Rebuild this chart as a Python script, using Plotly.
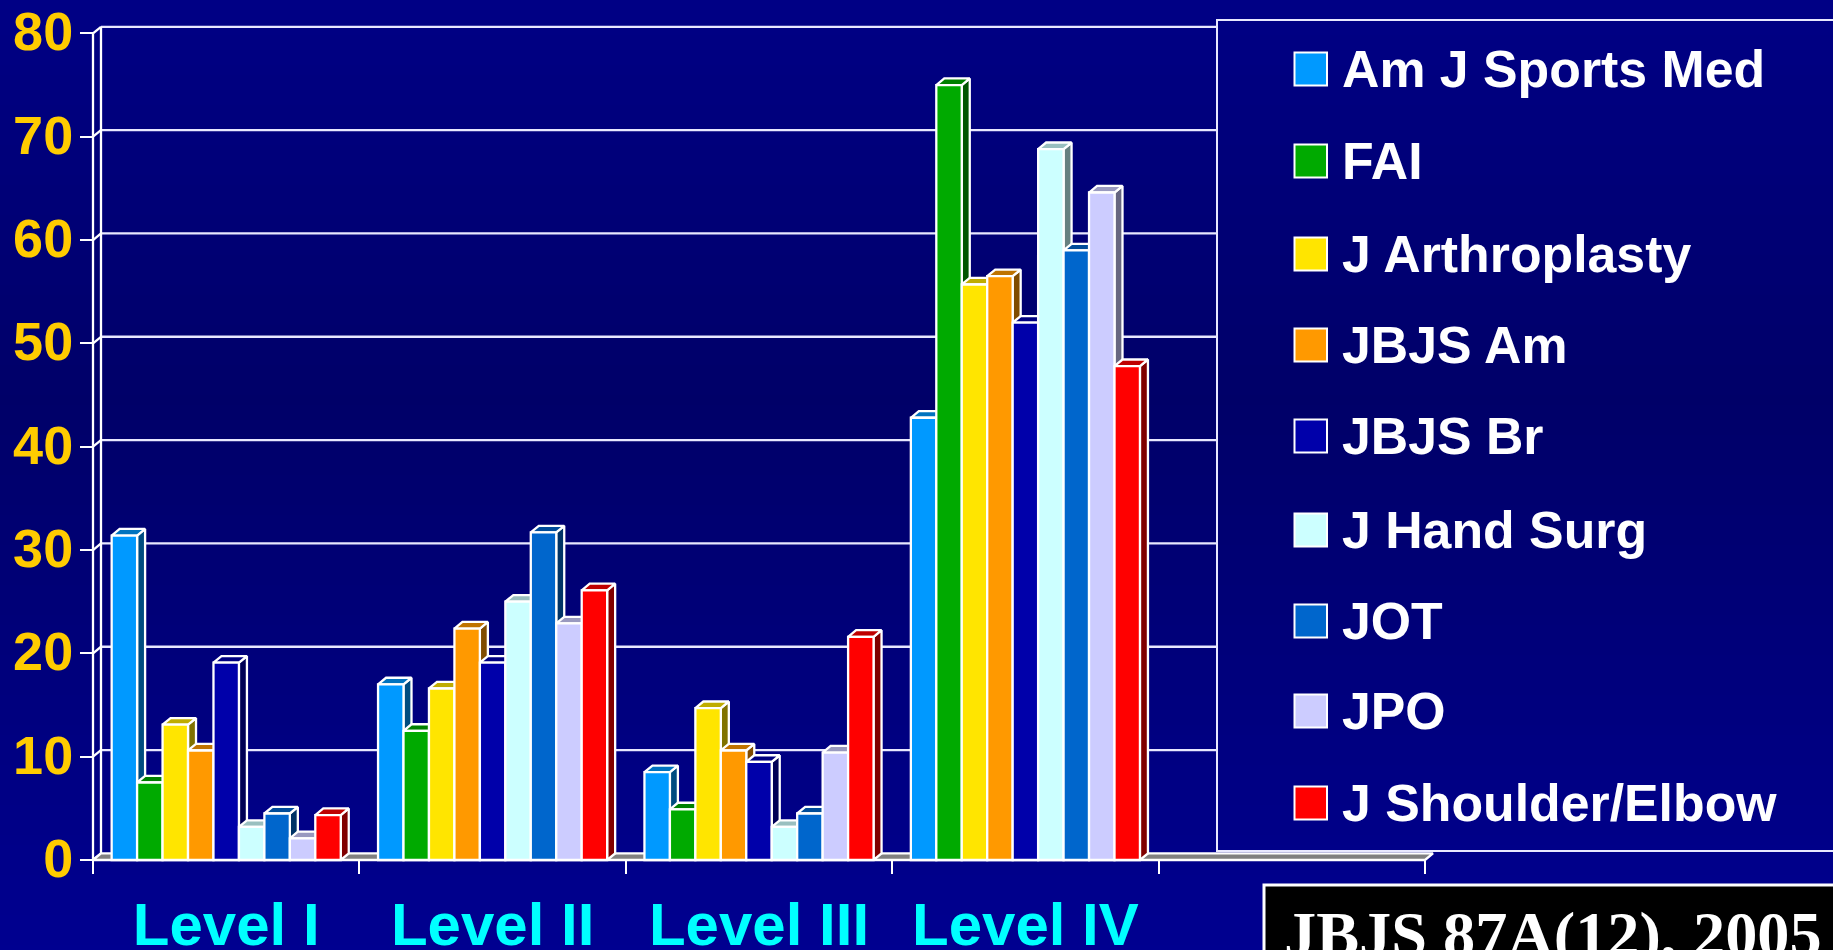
import plotly.graph_objects as go

# Percent of articles per evidence level, by journal
levels = ["Level I", "Level II", "Level III", "Level IV"]
journals = ["Am J Sports Med", "FAI", "J Arthroplasty", "JBJS Am", "JBJS Br",
            "J Hand Surg", "JOT", "JPO", "J Shoulder/Elbow"]
am_j_sports_med = [31.4, 17.0, 8.5, 42.8]
fai = [7.5, 12.5, 4.9, 75.0]
j_arthroplasty = [13.1, 16.6, 14.7, 55.7]
jbjs_am = [10.6, 22.4, 10.6, 56.5]
jbjs_br = [19.1, 19.1, 9.5, 52.0]
j_hand_surg = [3.2, 25.0, 3.2, 68.8]
jot = [4.5, 31.7, 4.5, 59.0]
jpo = [2.1, 22.9, 10.4, 64.6]
j_shoulder_elbow = [4.35, 26.1, 21.6, 47.8]
series = [am_j_sports_med, fai, j_arthroplasty, jbjs_am, jbjs_br,
          j_hand_surg, jot, jpo, j_shoulder_elbow]
colors = [(0, 153, 255), (0, 170, 0), (255, 229, 0), (255, 153, 0), (0, 0, 170),
          (204, 255, 255), (0, 102, 204), (204, 204, 255), (255, 0, 0)]
y_ticks = [0, 10, 20, 30, 40, 50, 60, 70, 80]

WIDTH, HEIGHT = 1833, 950
LEFT, RIGHT, BASE, TOP = 93, 1425, 860, 33.4
N_SLOTS = 5
BAR_GAP = 0.14
X_UNIT = (RIGHT - LEFT) / N_SLOTS
Y_UNIT = (BASE - TOP) / 80
DEPTH_X = 8 / X_UNIT      # extrusion in x-axis units
DEPTH_Y = 6.6 / Y_UNIT    # extrusion in y-axis units
WALL_END = (1217 - LEFT) / X_UNIT  # wall lines stop at the key
# Axis ranges reach a little past the box so its outer edges are not trimmed
X_RANGE = [-5 / X_UNIT, N_SLOTS + 10 / X_UNIT]
Y_RANGE = [-3 / Y_UNIT, 80 + 20 / Y_UNIT]
WHITE = "#FFFFFF"
EDGE = 2.3


def rgb(c, k=1.0):
    return f"rgb({round(c[0] * k)},{round(c[1] * k)},{round(c[2] * k)})"


def px(x):
    return x / WIDTH


def py(y):
    return 1 - y / HEIGHT


fig = go.Figure()


def poly(xs, ys, fill):
    fig.add_trace(go.Scatter(
        x=xs + xs[:1], y=ys + ys[:1], mode="lines", fill="toself", fillcolor=fill,
        line=dict(color=WHITE, width=EDGE), hoverinfo="skip", showlegend=False))


def line(xs, ys, color="#E8E8FF"):
    fig.add_trace(go.Scatter(
        x=xs, y=ys, mode="lines", line=dict(color=color, width=EDGE),
        hoverinfo="skip", showlegend=False))


# Back wall, side wall edges and floor of the 3D box
for v in y_ticks:
    if v:
        line([DEPTH_X, WALL_END], [v + DEPTH_Y, v + DEPTH_Y])
    line([0, DEPTH_X], [v, v + DEPTH_Y], WHITE)
line([DEPTH_X, DEPTH_X], [DEPTH_Y, 80 + DEPTH_Y], WHITE)
line([0, 0], [0, 80], WHITE)
poly([0, N_SLOTS, N_SLOTS + DEPTH_X, DEPTH_X], [0, 0, DEPTH_Y, DEPTH_Y], "rgb(128,128,128)")

# Side and top faces, painted left to right so that each bar overlaps its neighbour
bar_w = (1 - BAR_GAP) / len(series)
for g in range(len(levels)):
    for s, values in enumerate(series):
        v = values[g]
        x0 = g + BAR_GAP / 2 + s * bar_w
        x1 = x0 + bar_w
        poly([x1, x1 + DEPTH_X, x1 + DEPTH_X, x1], [0, DEPTH_Y, v + DEPTH_Y, v], rgb(colors[s], 0.5))
        poly([x0, x1, x1 + DEPTH_X, x0 + DEPTH_X], [v, v, v + DEPTH_Y, v + DEPTH_Y], rgb(colors[s], 0.75))

# Front faces sit on an overlaid pair of axes, which renders above the extruded faces
centers = [g + 0.5 for g in range(len(levels))]
for name, values, c in zip(journals, series, colors):
    fig.add_trace(go.Bar(
        x=centers, y=values, name=name, xaxis="x2", yaxis="y2",
        marker=dict(color=rgb(c), line=dict(color=WHITE, width=EDGE)),
        hovertemplate="%{y}<extra>" + name + "</extra>", showlegend=False))

shapes = []

# Vertical navy gradient behind everything
STEP = 5
for y in range(0, HEIGHT, STEP):
    t = abs((y + STEP / 2) - 400) / 550
    b = round(104 + 40 * min(t * 1.0, 1))
    shapes.append(dict(type="rect", xref="paper", yref="paper", layer="below",
                       x0=0, x1=1, y0=py(y + STEP), y1=py(y), line_width=0,
                       fillcolor=f"rgb(0,0,{b})"))

# Key frame, open on the right where it runs off the page
shapes.append(dict(type="rect", xref="paper", yref="paper", layer="above",
                   x0=px(1217), x1=px(1845), y0=py(851), y1=py(20),
                   line=dict(color="#E8E8FF", width=2)))

annotations = []
key_rows = [69, 161, 254, 345, 436, 530, 621, 711, 803]
for name, c, yc in zip(journals, colors, key_rows):
    shapes.append(dict(type="rect", xref="paper", yref="paper", layer="above",
                       x0=px(1294.5), x1=px(1327), y0=py(yc + 16.5), y1=py(yc - 16.5),
                       fillcolor=rgb(c), line=dict(color=WHITE, width=2)))
    annotations.append(dict(text=name, xref="paper", yref="paper", x=px(1340), y=py(yc),
                            xanchor="left", yanchor="middle", showarrow=False,
                            font=dict(family="Liberation Sans", size=51.8, color=WHITE, weight=700)))

# Citation box in the lower right corner
shapes.append(dict(type="rect", xref="paper", yref="paper", layer="above",
                   x0=px(1264), x1=px(1845), y0=py(965), y1=py(885),
                   fillcolor="#000000", line=dict(color=WHITE, width=3)))
annotations.append(dict(text="JBJS 87A(12), 2005", xref="paper", yref="paper",
                        x=px(1282), y=py(934), xanchor="left", yanchor="middle", showarrow=False,
                        font=dict(family="Liberation Serif", size=64.3, color=WHITE, weight=700)))

x_dom = [px(LEFT + X_RANGE[0] * X_UNIT), px(LEFT + X_RANGE[1] * X_UNIT)]
y_dom = [py(BASE - Y_RANGE[0] * Y_UNIT), py(BASE - Y_RANGE[1] * Y_UNIT)]
fig.update_layout(
    width=WIDTH, height=HEIGHT, margin=dict(l=0, r=0, t=0, b=0, autoexpand=False),
    paper_bgcolor="#000080", plot_bgcolor="rgba(0,0,0,0)",
    barmode="group", bargap=BAR_GAP, bargroupgap=0,
    showlegend=False, shapes=shapes, annotations=annotations,
    xaxis=dict(domain=x_dom, range=X_RANGE, anchor="free", position=py(BASE),
               tickmode="array", tickvals=centers, ticktext=levels,
               ticks="", ticklabelstandoff=24, showgrid=False, zeroline=False, showline=False,
               tickfont=dict(family="Liberation Sans", size=60, color="#00FFFF", weight=700),
               minor=dict(tickmode="array", tickvals=list(range(N_SLOTS + 1)), ticks="outside",
                          ticklen=13, tickwidth=2.3, tickcolor=WHITE, showgrid=False)),
    yaxis=dict(domain=y_dom, range=Y_RANGE, anchor="free", position=px(LEFT),
               tickmode="array", tickvals=y_ticks,
               ticks="outside", ticklen=13, tickwidth=2.3, tickcolor=WHITE,
               ticklabelstandoff=-4, ticklabelshift=-2, showgrid=False, zeroline=False, showline=False,
               tickfont=dict(family="Liberation Sans", size=54, color="#FFCC00", weight=700)),
    xaxis2=dict(domain=x_dom, range=X_RANGE, overlaying="x", anchor="y2", visible=False),
    yaxis2=dict(domain=y_dom, range=Y_RANGE, overlaying="y", anchor="x2", visible=False),
)

fig.write_html("out.html")
